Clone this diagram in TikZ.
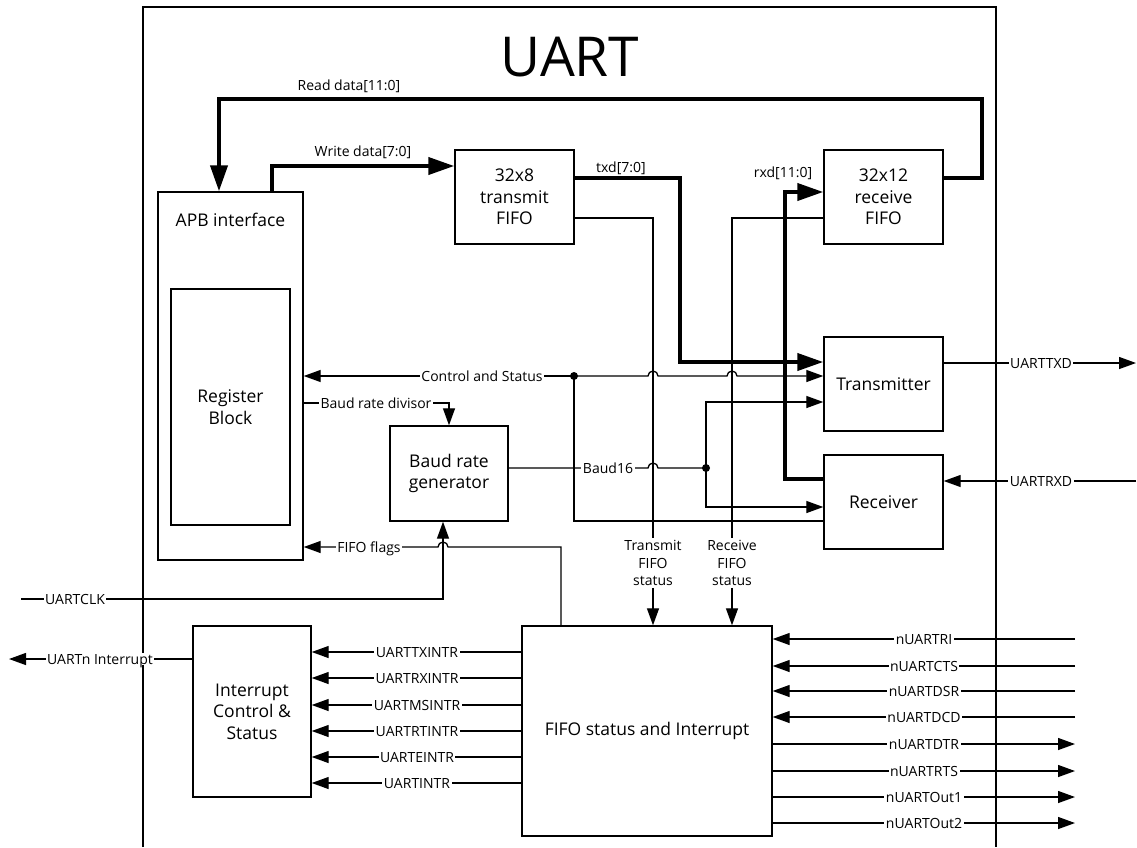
\documentclass[tikz,border=0pt]{standalone}
\usepackage{fontspec}
\setmainfont{Open Sans}
\usetikzlibrary{arrows.meta}
\begin{document}
\begin{tikzpicture}[x=1pt,y=-1pt,
  wire/.style={line width=1.3pt},
  bus/.style={line width=4pt},
  sa/.style={-{Triangle[length=17pt,width=12pt]}},
  ba/.style={-{Triangle[length=26pt,width=17pt]}},
  block/.style={draw,line width=1.4pt,inner sep=0pt,align=center,font=\fontsize{17.5}{21.5}\selectfont},
  btxt/.style={inner sep=0pt,align=center,font=\fontsize{17.5}{21.5}\selectfont},
  lbl/.style={fill=white,inner xsep=1.5pt,inner ysep=1pt,text height=10pt,text depth=0pt,font=\fontsize{14}{17}\selectfont},
  plbl/.style={inner sep=1pt,text height=10pt,text depth=3pt,font=\fontsize{14}{17}\selectfont},
  mlbl/.style={inner sep=2pt,align=center,font=\fontsize{14}{17.5}\selectfont},
  dot/.style={circle,fill,inner sep=0pt,minimum size=8pt}
]
\useasboundingbox (0,0) rectangle (1137,847);
% outer frame
\draw[line width=1.3pt] (143,847) -- (143,7) -- (996,7) -- (996,847);
\node[font=\fontsize{55}{60}\selectfont,inner sep=0pt] (title) at (570,57) {UART};
% blocks
\node[block,minimum width=145pt,minimum height=368pt] (apb) at (230.5,376) {};
\node[btxt] (apbt) at (230.5,220) {APB interface};
\node[block,minimum width=119pt,minimum height=236pt] (reg) at (230.5,407) {Register\\Block};
\node[block,minimum width=119pt,minimum height=94pt] (txf) at (514.5,197) {32x8\\transmit\\FIFO};
\node[block,minimum width=119pt,minimum height=94pt] (rxf) at (883.5,197) {32x12\\receive\\FIFO};
\node[block,minimum width=119pt,minimum height=94pt] (tx) at (883.5,384) {Transmitter};
\node[block,minimum width=119pt,minimum height=94pt] (rx) at (883.5,502) {Receiver};
\node[block,minimum width=118pt,minimum height=95pt] (baud) at (449,473.5) {Baud rate\\generator};
\node[block,minimum width=250pt,minimum height=210pt] (fifo) at (647,731) {FIFO status and Interrupt};
\node[block,minimum width=118pt,minimum height=171pt] (intc) at (252,711.5) {Interrupt\\Control \&\\Status};
% status labels
\node[mlbl] (tfs) at (653,563) {Transmit\\FIFO\\status};
\node[mlbl] (rfs) at (732,563) {Receive\\FIFO\\status};
% thin wires
\coordinate (cs) at (574,376);
\draw[wire,sa] (cs) -- (apb.east |- cs);
\draw[wire,sa] (cs) -- (648,376) arc[start angle=180,end angle=0,radius=5pt] -- (727,376) arc[start angle=180,end angle=0,radius=5pt] -- (tx.west |- cs);
\draw[wire] (cs) |- (rx.west |- 0,521);
\node[dot] (csdot) at (cs) {};
\draw[wire,sa] (apb.east |- 0,403) -- (449,403) -- (baud.north);
\coordinate (b16) at (706,468);
\draw[wire] (baud.east |- b16) -- (648,468) arc[start angle=180,end angle=0,radius=5pt] -- (b16);
\draw[wire,sa] (b16) |- (tx.west |- 0,402);
\draw[wire,sa] (b16) |- (rx.west |- 0,507);
\node[dot] (b16dot) at (b16) {};
\draw[wire] (txf.east |- 0,218) -| (tfs.north);
\draw[wire,sa] (tfs.south) -- (tfs.south |- fifo.north);
\draw[wire] (rxf.west |- 0,218) -| (rfs.north);
\draw[wire,sa] (rfs.south) -- (rfs.south |- fifo.north);
\coordinate (ff) at (561,547);
\draw[wire,sa] (fifo.north -| ff) -- (ff) -- (448,547) arc[start angle=0,end angle=180,radius=5pt] -- (apb.east |- ff);
\coordinate (clkin) at (21,599);
\coordinate (clkc) at (443,599);
\draw[wire,sa] (clkin) -- (clkc) -- (clkc |- baud.south);
\coordinate (txdout) at (1136,363);
\draw[wire,sa] (tx.east |- txdout) -- (txdout);
\coordinate (rxdin) at (1136,481);
\draw[wire,sa] (rxdin) -- (rx.east |- rxdin);
\coordinate (intout) at (9,659);
\draw[wire,sa] (intc.west |- intout) -- (intout);
% thick buses
\draw[bus,ba] (rxf.east |- 0,178) -- (982,178) -- (982,99) -- (219,99) -- (apb.north -| 219,0);
\draw[bus,ba] (apb.north -| 272,0) -- (272,166) -- (txf.west |- 0,166);
\draw[bus,ba] (txf.east |- 0,178) -- (680,178) -- (680,362) -- (tx.west |- 0,362);
\draw[bus,ba] (rx.west |- 0,479) -- (785,479) -- (785,192) -- (rxf.west |- 0,192);
% labels
\node[plbl] (lread) at (349,87) {Read data[11:0]};
\node[plbl] (lwrite) at (363,153) {Write data[7:0]};
\node[plbl] (ltxd) at (621,169) {txd[7:0]};
\node[plbl] (lrxd) at (783,174) {rxd[11:0]};
\node[lbl] (lcs) at (482,376) {Control and Status};
\node[lbl] (lbrd) at (376,403) {Baud rate divisor};
\node[lbl] (lb16) at (608,468) {Baud16};
\node[lbl] (lff) at (369,547) {FIFO flags};
\node[lbl] (lclk) at (75,599) {UARTCLK};
\node[lbl] (ltxdo) at (1041,363) {UARTTXD};
\node[lbl] (lrxdi) at (1041,481) {UARTRXD};
\node[lbl] (lint) at (100,659) {UARTn Interrupt};
\foreach \y/\t in {652/UARTTXINTR,678/UARTRXINTR,705/UARTMSINTR,731/UARTRTINTR,757/UARTEINTR,783/UARTINTR}{
  \draw[wire,sa] (fifo.west |- 0,\y) -- (intc.east |- 0,\y);
  \node[lbl] (l\t) at (417,\y) {\t};
}
\foreach \y/\t in {639/nUARTRI,666/nUARTCTS,691/nUARTDSR,717/nUARTDCD}{
  \coordinate (e\t) at (1075,\y);
  \draw[wire,sa] (e\t) -- (fifo.east |- e\t);
  \node[lbl] (l\t) at (924,\y) {\t};
}
\foreach \y/\t in {744/nUARTDTR,771/nUARTRTS,797/nUARTOut1,823/nUARTOut2}{
  \coordinate (e\t) at (1075,\y);
  \draw[wire,sa] (fifo.east |- e\t) -- (e\t);
  \node[lbl] (l\t) at (924,\y) {\t};
}
\end{tikzpicture}
\end{document}
